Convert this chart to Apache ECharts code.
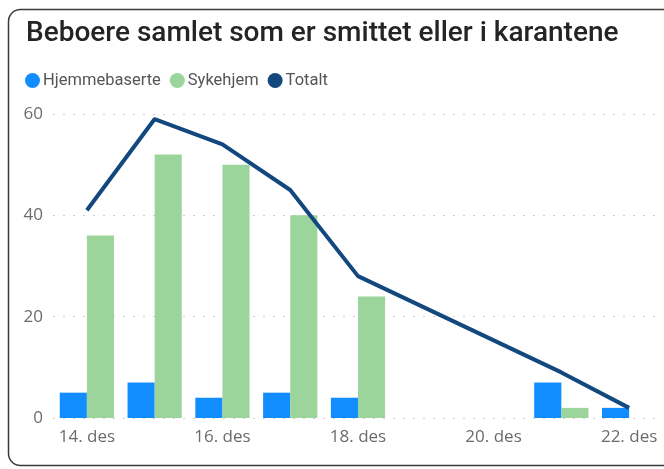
<!DOCTYPE html>
<html>
<head>
<meta charset="utf-8">
<script src="https://cdn.jsdelivr.net/npm/echarts@6/dist/echarts.min.js"></script>
<style>
  html, body { margin: 0; padding: 0; background: #fff; }
  #chart { width: 664px; height: 469px; }
</style>
</head>
<body>
<div id="chart"></div>
<script>
// data
const days = ['14. des', '15. des', '16. des', '17. des', '18. des', '19. des', '20. des', '21. des', '22. des']
const hjemmebaserte = [5, 7, 4, 5, 4, null, null, 7, 2]
const sykehjem = [36, 52, 50, 40, 24, null, null, 2, 0]
const totalt = [41, 59, 54, 45, 28, null, null, 9, 2]
const yTicks = [0, 20, 40, 60]

const chart = echarts.init(document.getElementById('chart'))

const axisFont = { fontFamily: 'Open Sans', fontSize: 17, color: '#6b6b6b' }

chart.setOption({
    animation: false,
    graphic: [{
        type: 'rect',
        shape: { x: 8.5, y: 9.5, width: 700, height: 456, r: 12 },
        style: { fill: 'none', stroke: '#3a3a3a', lineWidth: 1.5 },
        z: 0
    }],
    title: {
        text: 'Beboere samlet som er smittet eller i karantene',
        left: 21,
        top: 15,
        textStyle: { fontFamily: 'Roboto', fontSize: 28, fontWeight: 500, color: '#252423' }
    },
    legend: {
        left: 20,
        top: 67,
        icon: 'circle',
        itemWidth: 15,
        itemHeight: 15,
        itemGap: 9,
        textStyle: { fontFamily: 'Roboto', fontSize: 16.5, color: '#555', padding: [0, 0, 0, -2] },
        data: ['Hjemmebaserte', 'Sykehjem', 'Totalt']
    },
    grid: { left: 53, right: 1, top: 114, bottom: 51, containLabel: false },
    xAxis: {
        type: 'category',
        data: days,
        axisLine: { show: false },
        axisTick: { show: false },
        axisLabel: Object.assign({ interval: 1, margin: 11 }, axisFont)
    },
    yAxis: {
        type: 'value',
        min: yTicks[0],
        max: yTicks[yTicks.length - 1],
        interval: yTicks[1] - yTicks[0],
        axisLabel: Object.assign({ margin: 10 }, axisFont),
        splitLine: { lineStyle: { color: '#cfcfcf', type: [2, 8], width: 1 } }
    },
    series: [{
        name: 'Hjemmebaserte',
        type: 'bar',
        data: hjemmebaserte,
        barGap: '0%',
        barCategoryGap: '20%',
        itemStyle: { color: '#118DFF' }
    }, {
        name: 'Sykehjem',
        type: 'bar',
        data: sykehjem,
        barGap: '0%',
        barCategoryGap: '20%',
        itemStyle: { color: '#9BD59B' }
    }, {
        name: 'Totalt',
        type: 'line',
        data: totalt,
        connectNulls: true,
        showSymbol: false,
        symbol: 'circle',
        lineStyle: { color: '#12487E', width: 4 },
        itemStyle: { color: '#12487E' },
        z: 5
    }]
})
</script>
</body>
</html>
